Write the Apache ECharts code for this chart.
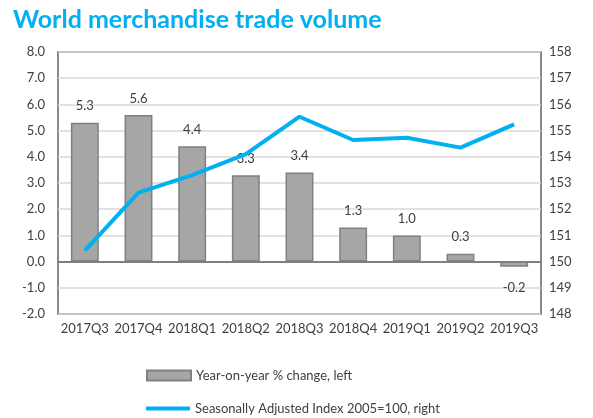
<!DOCTYPE html>
<html lang="en">
<head>
<meta charset="UTF-8">
<title>World merchandise trade volume</title>
<script src="https://cdn.jsdelivr.net/npm/echarts@6/dist/echarts.min.js"></script>
<style>
    html, body, #chart {
        width: 593px;
        height: 418px;
        margin: 0;
        padding: 0;
        background: #fff;
    }
</style>
</head>
<body>
<div id="chart"></div>
<script>
    const quarters = ["2017Q3", "2017Q4", "2018Q1", "2018Q2", "2018Q3", "2018Q4", "2019Q1", "2019Q2", "2019Q3"];
    const yoyChange = [5.3, 5.6, 4.4, 3.3, 3.4, 1.3, 1.0, 0.3, -0.2];
    const indexValues = [150.42, 152.63, 153.3, 154.1, 155.53, 154.64, 154.73, 154.35, 155.24];
    const barName = "Year-on-year % change, left";
    const lineName = "Seasonally Adjusted Index 2005=100, right";

    const font = "Lato, 'Open Sans', sans-serif";
    const textColor = "#404040";

    // negative bars get their label underneath
    const barData = yoyChange.map(function (v) {
        return v < 0 ? { value: v, label: { position: "bottom", distance: 14 } } : v;
    });

    const chart = echarts.init(document.getElementById("chart"));
    const legendText = { color: textColor, fontSize: 13, fontFamily: font };
    const option = {
        animation: false,
        textStyle: { fontFamily: font },
        title: {
            text: "World merchandise trade volume",
            left: 8,
            top: 2,
            textStyle: { color: "#00b0f0", fontSize: 25, fontWeight: "bold", fontFamily: font }
        },
        legend: [
            {
                left: 141,
                top: 364,
                itemWidth: 44,
                itemHeight: 10,
                itemGap: 4,
                textStyle: legendText,
                data: [{ name: barName, icon: "rect" }]
            },
            {
                left: 141,
                top: 397,
                itemWidth: 44,
                itemHeight: 4,
                textStyle: legendText,
                data: [{ name: lineName, icon: "roundRect" }]
            }
        ],
        grid: {
            left: 58,
            right: 52,
            top: 52,
            bottom: 104,
            show: true,
            borderColor: "#898989",
            borderWidth: 2
        },
        xAxis: {
            type: "category",
            data: quarters,
            axisTick: { show: false },
            axisLine: { onZero: true, lineStyle: { color: "#7f7f7f", width: 2 } },
            axisLabel: { color: textColor, fontSize: 13, margin: 8, fontFamily: font, interval: 0 }
        },
        yAxis: [
            {
                type: "value",
                min: -2,
                max: 8,
                interval: 1,
                axisLine: { show: false },
                axisTick: { show: false },
                splitLine: { lineStyle: { color: "#d9d9d9", width: 1.5 } },
                axisLabel: {
                    color: textColor, fontSize: 13, margin: 13, fontFamily: font,
                    formatter: function (v) { return v.toFixed(1); }
                }
            },
            {
                type: "value",
                min: 148,
                max: 158,
                interval: 1,
                axisLine: { show: false },
                axisTick: { show: false },
                splitLine: { show: false },
                axisLabel: { color: textColor, fontSize: 13, margin: 8, fontFamily: font }
            }
        ],
        series: [
            {
                name: barName,
                type: "bar",
                data: barData,
                barWidth: "52%",
                itemStyle: { color: "#a6a6a6", borderColor: "#808080", borderWidth: 1.5 },
                label: {
                    show: true,
                    position: "top",
                    distance: 10,
                    color: textColor,
                    fontSize: 13,
                    fontFamily: font,
                    formatter: function (p) { return p.value.toFixed(1); }
                }
            },
            {
                name: lineName,
                type: "line",
                yAxisIndex: 1,
                data: indexValues,
                symbol: "none",
                lineStyle: { color: "#00b0f0", width: 4 },
                itemStyle: { color: "#00b0f0" },
                z: 5
            }
        ]
    };
    chart.setOption(option);
</script>
</body>
</html>
